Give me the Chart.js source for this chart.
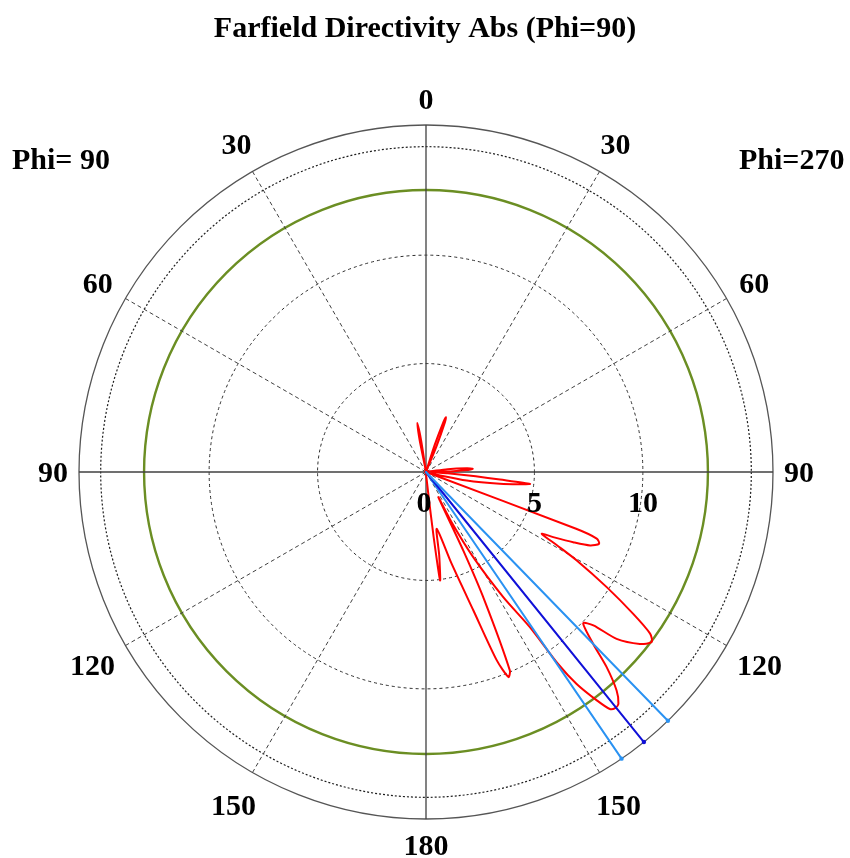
<!DOCTYPE html>
<html>
<head>
<meta charset="utf-8">
<script src="https://cdn.jsdelivr.net/npm/chart.js@4.4.1/dist/chart.umd.min.js"></script>
<style>
html,body{margin:0;padding:0;background:#ffffff;}
#wrap{width:850px;height:858px;}
canvas{display:block;}
</style>
</head>
<body>
<div id="wrap"><canvas id="c" width="850" height="858"></canvas></div>
<script>
// ---------------- data ----------------
const chartTitle = 'Farfield Directivity Abs (Phi=90)';
const sideLabels = ['Phi= 90', 'Phi=270'];
const angleTicks = [0, 30, 60, 90, 120, 150, 180, 210, 240, 270, 300, 330];
const angleTickLabels = ['0', '30', '60', '90', '120', '150', '180', '150', '120', '90', '60', '30'];
const radialTickLabels = [0, 5, 10];
const ringValues = [0, 5, 10, 13, 15, 16];
const rMax = 16;
const refLevel = 13;

// Phi=270 half (right side), theta in degrees from the top, clockwise
const thetaPhi270 = [0.0, 4.0, 15.5, 17.8, 19.2, 20.0, 20.8, 22.2, 24.5, 50.0, 79.5,
  82.5, 84.8, 86.1, 87.5, 89.5, 91.5, 93.5, 95.0, 95.8, 96.5, 97.6, 99.1, 101.8, 104.5,
  107.5, 110.0, 110.7, 111.3, 112.5, 114.1, 115.5, 117.1, 118.1,
  119.2, 120.4, 122.5, 124.4, 125.8, 127.0, 128.8, 131.2, 132.5, 133.9,
  135.8, 137.2, 138.9, 140.3, 141.2, 142.2, 143.2, 144.6, 145.5, 146.2, 148.3, 151.0, 153.0, 153.9,
  154.6, 155.5, 157.1, 158.1, 159.4, 161.1, 164.4, 169.3,
  171.0, 172.6, 173.3, 174.0, 176.0, 180.0];
const dirPhi270 = [0.15, 0.05, 0.05, 1.3, 2.45, 2.69, 2.45, 1.3, 0.05, 0.05, 0.05,
  1.0, 1.9, 2.16, 1.8, 0.8, 0.3, 1.0, 2.3, 3.43, 4.83, 4.3, 3.45, 1.92, 0.5,
  0.1, 0.1, 7.4, 8.45, 8.64, 8.29, 7.52, 6.59, 6.05,
  6.9, 8.06, 9.88, 11.58, 12.74, 13.03, 12.65, 11.68, 10.47, 10.06,
  11.06, 12.26, 13.37, 13.89, 13.95, 13.83, 13.15, 11.99, 10.7, 8.61, 6.78, 4.49, 2.6, 1.3,
  4.0, 6.5, 9.94, 10.19, 9.28, 6.75, 4.39, 2.67,
  3.9, 5.04, 3.0, 1.0, 0.2, 0.1];

// Phi=90 half (left side), theta in degrees from the top, counter-clockwise
const thetaPhi90 = [3.0, 7.0, 8.8, 10.1, 11.3, 13.0, 90.0, 179.0];
const dirPhi90 = [0.05, 0.05, 1.5, 2.29, 1.5, 0.05, 0.05, 0.05];

// main lobe direction and 3 dB limits (theta, Phi=270 side)
const beamTheta = [135.8, 141.1, 145.7];
const beamNames = ['3 dB limit', 'Main lobe direction', '3 dB limit'];
const beamColors = ['#2a92f2', '#1010d8', '#2a92f2'];

// ---------------- build library tables ----------------
const STEPS = 10;            // angular resolution 0.1 degree
const N = 360 * STEPS;
const angleLabels = Array.from({length: N}, (_, i) => (i / STEPS).toFixed(1));
const idxRight = t => Math.round(t * STEPS) % N;
const idxLeft = t => Math.round((360 - t) * STEPS) % N;

const patternData = new Array(N).fill(null);
thetaPhi270.forEach((t, i) => { patternData[idxRight(t)] = dirPhi270[i]; });
thetaPhi90.forEach((t, i) => { patternData[idxLeft(t)] = dirPhi90[i]; });

const beamSets = beamTheta.map((t, k) => {
  const d = new Array(N).fill(null);
  d[idxRight(t)] = rMax;
  d[idxRight(t) + 1] = 0;
  return {
    label: beamNames[k],
    data: d,
    spanGaps: true,
    borderColor: beamColors[k],
    backgroundColor: beamColors[k],
    borderWidth: 2,
    fill: false,
    tension: 0,
    pointRadius: ctx => (ctx.raw === rMax ? 2.2 : 0),
    pointBorderWidth: 0
  };
});

const textPlugin = {
  id: 'farfieldTexts',
  afterDraw(chart) {
    const s = chart.scales.r;
    const ctx = chart.ctx;
    ctx.save();
    ctx.fillStyle = '#000000';
    ctx.font = 'bold 30px "Liberation Serif", "Times New Roman", serif';
    ctx.textBaseline = 'alphabetic';
    ctx.textAlign = 'center';
    ctx.fillText(chartTitle, 425, 37);
    ctx.textAlign = 'left';
    ctx.fillText(sideLabels[0], 12, 169);
    ctx.fillText(sideLabels[1], 739, 169);
    ctx.textAlign = 'center';
    const R = s.drawingArea;
    angleTicks.forEach((a, k) => {
      const diag = a % 90 !== 0;
      const lower = a > 90 && a < 270;
      const d = R + 26 + (diag ? (lower ? 12 : 6) : 0);
      const p = s.getPointPosition(idxRight(a), d);
      ctx.fillText(angleTickLabels[k], p.x, p.y + 10);
    });
    radialTickLabels.forEach(v => {
      const p = s.getPointPositionForValue(idxRight(90), v);
      ctx.fillText(String(v), p.x - (v === 0 ? 2 : 0), s.yCenter + 40);
    });
    ctx.restore();
  }
};

new Chart(document.getElementById('c'), {
  type: 'radar',
  data: {
    labels: angleLabels,
    datasets: [
      ...beamSets,
      {
        label: 'Farfield Directivity Abs',
        data: patternData,
        spanGaps: true,
        borderColor: '#ff0000',
        borderWidth: 2,
        fill: false,
        pointRadius: 0,
        tension: 0.25,
        borderJoinStyle: 'round',
        borderCapStyle: 'round'
      }
    ]
  },
  options: {
    responsive: false,
    animation: false,
    events: [],
    layout: { padding: { left: 79, right: 77, top: 125, bottom: 39 } },
    elements: { line: { borderJoinStyle: 'round' }, point: { radius: 0 } },
    plugins: { legend: { display: false }, title: { display: false }, tooltip: { enabled: false } },
    scales: {
      r: {
        min: 0,
        max: rMax,
        startAngle: 0,
        afterBuildTicks: scale => { scale.ticks = ringValues.map(v => ({ value: v })); },
        ticks: { display: false },
        pointLabels: { display: false },
        grid: {
          circular: true,
          color: ctx => {
            const v = ctx.tick ? ctx.tick.value : 0;
            if (v === refLevel) return '#6b8e23';
            if (v === rMax) return '#555555';
            if (v === 15) return '#1e1e1e';
            return '#2e2e2e';
          },
          lineWidth: ctx => {
            const v = ctx.tick ? ctx.tick.value : 0;
            if (v === refLevel) return 2.4;
            if (v === rMax) return 1.3;
            if (v === 15) return 1.2;
            return 1;
          }
        },
        border: {
          dash: ctx => {
            const v = ctx.tick ? ctx.tick.value : 0;
            if (v === refLevel || v === rMax) return [];
            if (v === 15) return [2, 2];
            return [3, 3];
          }
        },
        angleLines: {
          display: true,
          color: '#404040',
          lineWidth: ctx => (ctx.index % (30 * STEPS) === 0 ? (ctx.index % (90 * STEPS) === 0 ? 1.3 : 1) : 0),
          borderDash: ctx => (ctx.index % (90 * STEPS) === 0 ? [] : [4, 3])
        }
      }
    }
  },
  plugins: [textPlugin]
});
</script>
</body>
</html>
